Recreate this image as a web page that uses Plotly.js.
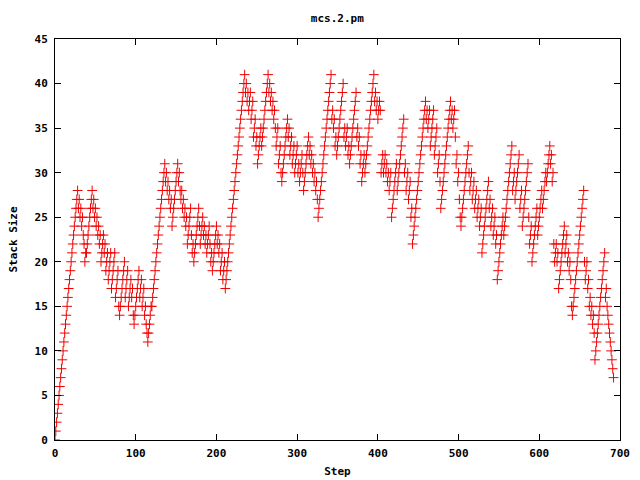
<!DOCTYPE html>
<html>
<head>
<meta charset="utf-8">
<script src="https://cdn.plot.ly/plotly-3.0.1.min.js"></script>
<style>html,body{margin:0;padding:0;background:#fff;}#chart{width:640px;height:480px;}</style>
</head>
<body>
<div id="chart"></div>
<script>
// Stack size at each step (step 0 onward)
const stackSize = [
  0,1,2,3,4,5,6,7,8,9,
  10,11,12,13,14,15,16,17,18,19,
  20,21,22,23,24,25,26,27,28,
  26,27,25,26,24,25,23,22,20,21,
  21,22,23,24,25,26,27,28,
  26,27,25,26,24,25,23,24,22,23,
  20,21,22,23,21,22,19,20,21,18,
  19,20,21,17,18,19,20,21,16,17,
  18,19,15,14,15,16,17,18,19,20,
  16,17,18,19,15,16,17,18,16,17,
  14,13,14,15,16,17,18,19,16,17,
  18,15,16,17,14,15,13,12,11,
  12,13,14,15,
  15,16,17,18,19,20,21,22,23,24,25,26,27,28,29,30,31,
  29,30,28,29,27,28,26,27,24,25,26,27,28,29,30,31,29,30,28,27,28,26,27,25,
  26,24,25,22,23,24,25,26,23,21,
  22,20,21,22,23,24,25,26,24,22,
  23,24,25,23,24,22,23,21,22,23,
  24,22,20,21,19,20,21,22,23,24,
  22,23,21,22,19,20,21,18,19,20,
  17,
  18,19,20,21,22,23,24,25,26,27,28,29,30,31,32,33,34,35,36,37,38,39,40,41,
  39,40,38,39,37,38,39,36,37,38,34,35,36,33,34,
  31,32,33,34,35,33,34,35,36,37,38,39,40,41,
  39,40,38,39,37,38,36,37,35,33,
  34,35,31,32,33,30,29,30,31,32,
  33,34,35,36,34,35,32,33,34,31,
  32,33,30,31,32,33,30,31,29,30,
  31,32,30,28,29,30,31,32,33,34,
  32,33,31,32,30,31,29,30,28,29,
  27,25,
  26,27,28,29,30,31,32,33,34,35,36,37,38,39,40,41,
  36,37,35,36,33,34,32,33,34,35,
  36,37,38,39,40,34,35,33,34,35,
  32,33,31,32,33,34,35,36,37,38,
  39,34,35,33,34,31,32,29,30,31,
  32,30,31,32,33,34,35,36,37,38,
  39,40,41,
  38,39,37,38,36,37,38,37,30,31,
  32,30,31,32,30,31,29,30,28,29,
  30,25,26,27,28,29,30,31,28,29,
  30,31,32,33,34,35,36,30,31,28,
  29,30,27,28,29,25,26,22,23,24,
  25,26,27,28,29,30,31,32,33,34,35,36,37,38,
  36,37,35,36,37,33,34,35,36,37,
  32,33,34,35,30,31,32,29,26,27,
  28,29,30,31,32,33,34,35,36,37,
  38,36,37,35,36,37,34,31,32,29,
  30,27,25,24,25,26,27,28,29,30,
  31,32,33,
  30,28,29,30,27,28,29,26,27,28,
  25,26,27,24,25,26,21,22,23,24,
  25,26,27,28,29,26,27,24,25,26,
  23,24,25,22,23,18,19,20,21,22,
  23,24,25,23,24,25,26,27,28,29,
  30,31,32,33,28,29,30,27,28,29,
  30,31,32,26,27,28,24,25,26,27,
  28,29,30,31,25,22,23,24,20,21,
  22,23,24,25,26,23,24,25,26,27,
  28,26,27,28,29,30,29,30,31,32,
  33,31,32,29,30,22,20,21,22,20,
  21,17,18,19,20,21,22,23,24,21,
  22,23,20,21,19,20,18,15,14,15,
  16,17,18,19,20,21,22,23,24,25,
  26,27,28,20,18,19,20,17,18,15,
  16,14,15,13,14,12,9,10,11,12,
  13,14,15,16,17,18,19,20,21,16,
  17,15,14,13,12,11,10,9,8,7
];
const steps = stackSize.map((_, i) => i);

const chartTitle = 'mcs.2.pm';
const xTitle = 'Step';
const yTitle = 'Stack Size';
const xTicks = [0, 100, 200, 300, 400, 500, 600, 700];
const yTicks = [0, 5, 10, 15, 20, 25, 30, 35, 40, 45];

const font = {family: 'DejaVu Sans Mono, monospace', size: 11, color: '#000', weight: 'bold'};

const axisCommon = {
  showgrid: false, zeroline: false, showline: true, mirror: 'ticks',
  linecolor: '#000', linewidth: 1, ticks: 'inside', ticklen: 6, tickwidth: 1,
  tickcolor: '#000', tickfont: font
};

Plotly.newPlot('chart', [{
  x: steps, y: stackSize, type: 'scatter', mode: 'markers',
  marker: {symbol: 'cross-thin', size: 7, line: {width: 1, color: '#f00000'}, color: '#f00000'},
  hoverinfo: 'skip'
}], {
  width: 640, height: 480,
  margin: {l: 55, r: 20, t: 39, b: 40},
  paper_bgcolor: '#fff', plot_bgcolor: '#fff',
  showlegend: false,
  title: {text: chartTitle, font: font, x: 0.527, xanchor: 'center', y: 0.963, yanchor: 'middle'},
  xaxis: Object.assign({}, axisCommon, {range: [0, 700], tickvals: xTicks, ticktext: xTicks.map(String),
    ticklabelstandoff: 3,
    title: {text: xTitle, font: font, standoff: 8}}),
  yaxis: Object.assign({}, axisCommon, {range: [0, 45], tickvals: yTicks, ticktext: yTicks.map(String),
    ticklabelstandoff: 4,
    title: {text: yTitle, font: font, standoff: 14}})
}, {displayModeBar: false, staticPlot: true});
</script>
</body>
</html>
